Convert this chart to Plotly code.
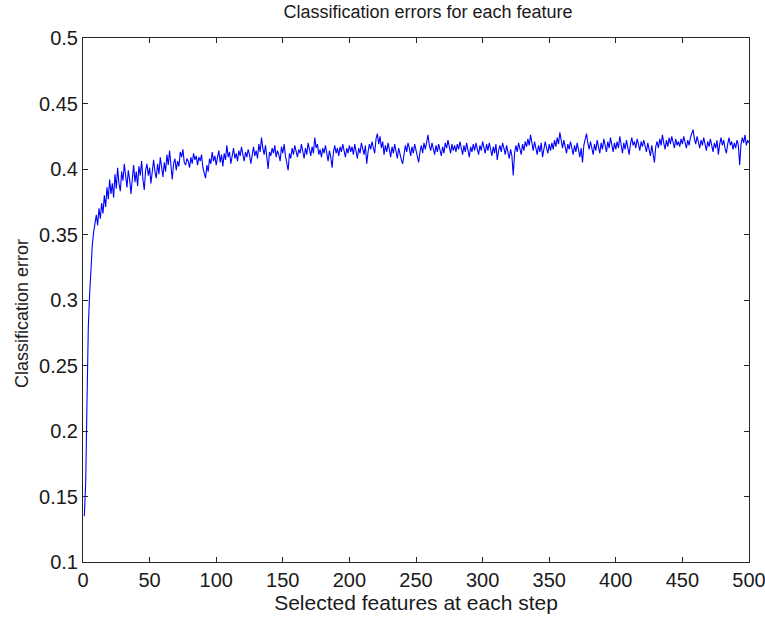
import plotly.graph_objects as go

features = list(range(1, 501))

errors = [
    0.135, 0.160, 0.222, 0.280, 0.305, 0.328, 0.342, 0.352, 0.358, 0.365, 0.357, 0.370, 0.362, 0.374, 0.366, 0.380, 0.371, 0.386, 0.377, 0.392,
    0.381, 0.389, 0.378, 0.396, 0.385, 0.401, 0.389, 0.383, 0.398, 0.391, 0.404, 0.394, 0.386, 0.399, 0.392, 0.381, 0.396, 0.403, 0.390, 0.398,
    0.387, 0.402, 0.395, 0.406, 0.392, 0.384, 0.399, 0.404, 0.395, 0.401, 0.389, 0.397, 0.407, 0.398, 0.393, 0.404, 0.396, 0.409, 0.401, 0.394,
    0.405, 0.398, 0.411, 0.403, 0.414, 0.400, 0.392, 0.404, 0.408, 0.399, 0.406, 0.402, 0.413, 0.409, 0.415, 0.405, 0.403, 0.408, 0.406, 0.401,
    0.409, 0.404, 0.412, 0.407, 0.410, 0.403, 0.409, 0.406, 0.411, 0.401, 0.397, 0.393, 0.403, 0.398, 0.408, 0.404, 0.413, 0.406, 0.410, 0.403,
    0.409, 0.414, 0.405, 0.411, 0.402, 0.412, 0.407, 0.418, 0.409, 0.413, 0.404, 0.410, 0.416, 0.408, 0.412, 0.406, 0.414, 0.410, 0.417, 0.411,
    0.406, 0.413, 0.409, 0.415, 0.411, 0.404, 0.412, 0.417, 0.410, 0.414, 0.408, 0.419, 0.413, 0.424, 0.416, 0.411, 0.418, 0.408, 0.400, 0.413,
    0.410, 0.416, 0.412, 0.418, 0.409, 0.414, 0.411, 0.406, 0.417, 0.412, 0.419, 0.410, 0.404, 0.399, 0.412, 0.408, 0.416, 0.411, 0.418, 0.413,
    0.409, 0.415, 0.412, 0.419, 0.414, 0.408, 0.416, 0.411, 0.420, 0.415, 0.410, 0.417, 0.412, 0.424, 0.416, 0.419, 0.411, 0.415, 0.409, 0.416,
    0.412, 0.418, 0.413, 0.406, 0.414, 0.409, 0.401, 0.413, 0.418, 0.412, 0.416, 0.410, 0.417, 0.413, 0.419, 0.414, 0.409, 0.416, 0.412, 0.418,
    0.413, 0.417, 0.411, 0.419, 0.414, 0.408, 0.416, 0.412, 0.420, 0.415, 0.411, 0.418, 0.404, 0.413, 0.419, 0.415, 0.421, 0.416, 0.412, 0.423,
    0.427, 0.419, 0.425, 0.416, 0.421, 0.411, 0.418, 0.413, 0.420, 0.415, 0.409, 0.417, 0.412, 0.419, 0.414, 0.408, 0.416, 0.411, 0.407, 0.404,
    0.412, 0.418, 0.413, 0.420, 0.416, 0.410, 0.417, 0.412, 0.419, 0.414, 0.409, 0.405, 0.413, 0.418, 0.412, 0.420, 0.415, 0.421, 0.426, 0.418,
    0.414, 0.420, 0.416, 0.411, 0.418, 0.413, 0.419, 0.415, 0.410, 0.417, 0.412, 0.420, 0.416, 0.422, 0.417, 0.412, 0.419, 0.414, 0.418, 0.413,
    0.419, 0.415, 0.421, 0.416, 0.411, 0.418, 0.413, 0.420, 0.415, 0.409, 0.417, 0.413, 0.419, 0.414, 0.420, 0.416, 0.411, 0.418, 0.414, 0.421,
    0.416, 0.412, 0.419, 0.414, 0.420, 0.415, 0.410, 0.417, 0.412, 0.419, 0.407, 0.414, 0.418, 0.413, 0.420, 0.416, 0.411, 0.418, 0.413, 0.408,
    0.415, 0.410, 0.395, 0.412, 0.418, 0.413, 0.420, 0.416, 0.411, 0.419, 0.414, 0.421, 0.417, 0.423, 0.418, 0.426, 0.419, 0.414, 0.421, 0.416,
    0.411, 0.418, 0.413, 0.420, 0.409, 0.415, 0.421, 0.416, 0.412, 0.419, 0.414, 0.420, 0.415, 0.422, 0.417, 0.424, 0.419, 0.428, 0.421, 0.416,
    0.422, 0.417, 0.412, 0.419, 0.415, 0.421, 0.416, 0.411, 0.418, 0.413, 0.420, 0.414, 0.409, 0.416, 0.405, 0.418, 0.423, 0.427, 0.420, 0.415,
    0.421, 0.416, 0.411, 0.419, 0.414, 0.422, 0.417, 0.412, 0.420, 0.415, 0.423, 0.418, 0.413, 0.421, 0.416, 0.424, 0.419, 0.413, 0.420, 0.415,
    0.421, 0.416, 0.425, 0.418, 0.412, 0.420, 0.415, 0.422, 0.417, 0.411, 0.419, 0.424, 0.418, 0.421, 0.416, 0.423, 0.419, 0.414, 0.421, 0.417,
    0.422, 0.418, 0.413, 0.420, 0.416, 0.410, 0.418, 0.412, 0.405, 0.417, 0.421, 0.416, 0.423, 0.418, 0.426, 0.420, 0.415, 0.422, 0.417, 0.424,
    0.419, 0.425, 0.420, 0.416, 0.423, 0.418, 0.421, 0.417, 0.423, 0.419, 0.425, 0.420, 0.416, 0.422, 0.418, 0.424, 0.427, 0.430, 0.423, 0.419,
    0.425, 0.420, 0.416, 0.422, 0.418, 0.424, 0.419, 0.414, 0.421, 0.417, 0.423, 0.418, 0.413, 0.420, 0.416, 0.422, 0.411, 0.419, 0.424, 0.418,
    0.422, 0.416, 0.412, 0.419, 0.424, 0.418, 0.421, 0.415, 0.420, 0.416, 0.422, 0.418, 0.403, 0.419, 0.424, 0.420, 0.426, 0.418, 0.422, 0.420,
]

x_ticks = [0, 50, 100, 150, 200, 250, 300, 350, 400, 450, 500]
y_ticks = [0.1, 0.15, 0.2, 0.25, 0.3, 0.35, 0.4, 0.45, 0.5]
y_tick_labels = ["0.1", "0.15", "0.2", "0.25", "0.3", "0.35", "0.4", "0.45", "0.5"]

title_text = "Classification errors for each feature"
x_title = "Selected features at each step"
y_title = "Classification error"

fig = go.Figure()
fig.add_trace(go.Scatter(
    x=features, y=errors, mode="lines",
    line=dict(color="#0000ff", width=1.1),
    showlegend=False, hoverinfo="x+y",
))

FONT = "Liberation Sans, Arial, sans-serif"
TXT = "#1a1a1a"

axis_common = dict(
    showgrid=False, zeroline=False, showline=True, linecolor="#262626",
    linewidth=1, mirror="ticks", ticks="inside", ticklen=5, tickwidth=1,
    tickcolor="#262626", automargin=False, ticklabeloverflow="allow",
)

fig.update_xaxes(
    range=[0, 500], tickvals=x_ticks, ticktext=[str(v) for v in x_ticks],
    tickfont=dict(family=FONT, size=20, color=TXT),
    title=dict(text=x_title, font=dict(family=FONT, size=21, color=TXT), standoff=3),
    **axis_common,
)
fig.update_yaxes(
    range=[0.1, 0.5], tickvals=y_ticks, ticktext=y_tick_labels,
    tickfont=dict(family=FONT, size=20, color=TXT),
    **axis_common,
)

fig.add_annotation(
    text=y_title, xref="paper", yref="paper", x=-83 / 666 + 22 / 666, y=(562 - 314) / 524,
    xanchor="center", yanchor="middle", textangle=-90, showarrow=False,
    font=dict(family=FONT, size=18, color=TXT),
)

fig.update_layout(
    width=765, height=618, autosize=False,
    margin=dict(l=83, r=16, t=38, b=56, autoexpand=False),
    paper_bgcolor="white", plot_bgcolor="white",
    title=dict(text=title_text, x=428 / 765, xanchor="center", xref="container",
               y=1 - 12 / 618, yanchor="middle", yref="container",
               font=dict(family=FONT, size=18, color=TXT)),
)

fig.write_html("out.html")
